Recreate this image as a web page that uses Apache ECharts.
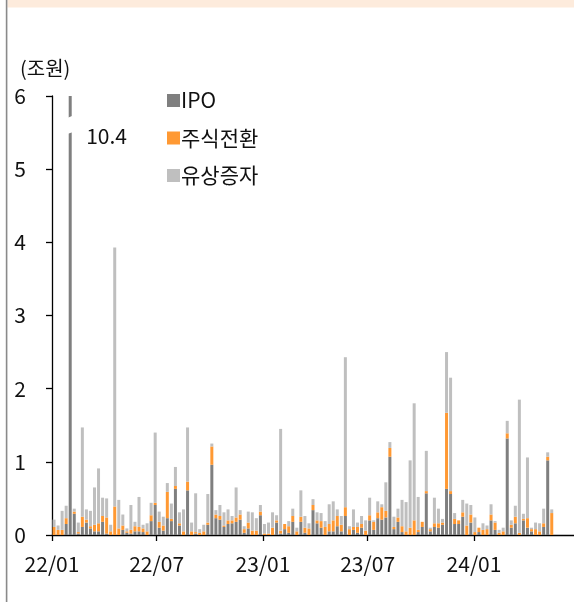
<!DOCTYPE html>
<html><head><meta charset="utf-8">
<script src="https://cdn.jsdelivr.net/npm/echarts@6/dist/echarts.min.js"></script>
<style>html,body{margin:0;padding:0;background:#fff}#c{width:574px;height:602px}</style>
</head><body><div id="c"></div>
<script>
// Weekly series, weeks starting 2022-01-01 (one category per week)
const firstWeek = '2022-01-01';
const weekCount = 129; // axis runs a few weeks past the last bar
const seriesNames = ['IPO', '주식전환', '유상증자'];
const ipo = [0,0,0,0.15,10.4,0.29,0.02,0.11,0.17,0.09,
  0.05,0.05,0.18,0.02,0,0,0,0.07,0.03,0.02,
  0.05,0.05,0.04,0,0.19,0.41,0.10,0.06,0.23,0.19,
  0.63,0.13,0,0.61,0,0.02,0,0,0.14,0.96,
  0.23,0.21,0.11,0.15,0.16,0.18,0.21,0.03,0.09,0,
  0,0.27,0,0,0,0.17,0.02,0.08,0.03,0.18,
  0,0.18,0.03,0,0.34,0.16,0.10,0,0.05,0.05,
  0.12,0.05,0.26,0,0.07,0.03,0.10,0,0.20,0.07,
  0.23,0.21,0.24,1.07,0.08,0.18,0.04,0,0,0,
  0.04,0.11,0.57,0.05,0.11,0.10,0.14,0.63,0.56,0.15,
  0.15,0.25,0,0.17,0,0.04,0,0,0.20,0.07,
  0,0,1.32,0.10,0.16,0,0.20,0.10,0.05,0,
  0,0.11,1.02,0];
const conversion = [0.11,0.07,0.07,0.08,0,0.03,0.02,0.14,0.04,0.03,
  0.09,0.11,0.08,0.22,0.05,0.39,0.09,0.06,0.02,0.05,
  0.07,0.06,0.05,0.05,0.08,0.03,0.08,0.07,0.36,0.03,
  0.04,0.03,0.05,0.12,0.05,0.02,0.03,0.05,0.03,0.25,
  0.05,0.05,0.02,0.05,0.04,0.06,0.07,0.05,0.08,0.06,
  0.06,0.05,0.02,0.02,0.10,0.03,0.04,0.07,0.09,0.08,
  0.05,0.07,0.07,0.09,0.07,0.04,0.09,0.11,0.10,0.15,
  0.14,0.09,0.12,0.08,0.04,0.08,0.05,0.06,0.07,0.11,
  0.08,0.17,0.09,0.12,0.03,0.06,0.08,0.05,0.10,0.20,
  0.03,0.07,0.03,0.03,0.05,0.06,0.03,1.04,0.04,0.07,
  0.05,0.06,0.13,0.11,0.04,0.06,0.07,0.08,0.08,0.10,
  0.03,0.05,0.07,0.04,0.09,0.03,0.02,0.13,0.03,0.08,
  0.05,0.05,0.05,0.30];
const rights = [0.10,0.06,0.26,0.17,0,0.04,0.13,1.22,0.14,0.21,
  0.51,0.75,0.25,0.26,0.09,3.54,0.39,0.15,0.04,0.34,
  0.06,0.41,0.05,0.11,0.17,0.96,0.14,0.12,0.12,0.21,
  0.26,0.15,0.30,0.74,0.12,0.53,0.05,0.09,0.39,0.04,
  0.06,0.15,0.18,0.15,0.06,0.41,0.06,0.04,0.15,0.25,
  0.17,0.09,0.13,0.15,0.21,0.07,1.39,0,0.07,0.10,
  0.05,0.36,0.16,0.07,0.08,0.11,0.11,0.08,0.27,0.26,
  0.09,0.12,2.05,0.04,0.24,0.06,0.11,0.14,0.24,0.02,
  0.15,0.04,0.39,0.08,0.14,0.12,0.36,0.40,0.92,1.60,
  0.45,0,0.55,0.02,0.35,0.20,0.05,0.83,1.55,0.08,
  0,0.17,0.30,0.13,0.20,0,0.09,0.05,0.14,0.02,
  0.04,0.05,0.17,0.06,0.15,1.82,0.07,0.83,0.02,0.09,
  0.11,0.20,0.06,0.05];
const tickDates = ['2022-01-01', '2022-07-01', '2023-01-01', '2023-07-01', '2024-01-01'];
const tickLabels = ['22/01', '22/07', '23/01', '23/07', '24/01'];
const yUnit = '(조원)';
const yMax = 6;

const DAY = 86400000;
const origin = Date.parse(firstWeek);
const dayOf = s => Math.round((Date.parse(s) - origin) / DAY);
const weekCats = Array.from({length: weekCount}, (_, i) =>
  new Date(origin + 7 * i * DAY).toISOString().slice(0, 10));
const tickDays = tickDates.map(dayOf);
const axisDays = weekCount * 7;

const FONT = '"Noto Sans CJK KR", "Noto Sans", sans-serif';
const colors = ['#7f7f7f', '#ff9933', '#bfbfbf'];
const chart = echarts.init(document.getElementById('c'), null, {renderer: 'canvas'});

const mk = (name, arr, color) => ({
  name, type: 'bar', stack: 'total', barWidth: 3, clip: true, xAxisIndex: 0,
  itemStyle: {color}, emphasis: {disabled: true},
  data: arr
});

chart.setOption({
  animation: false,
  textStyle: {fontFamily: FONT},
  grid: {left: 52, right: 0, top: 96, bottom: 67, containLabel: false},
  legend: {
    orient: 'vertical', left: 162, top: 85, itemWidth: 13, itemHeight: 13, itemGap: 16.5,
    icon: 'rect', data: seriesNames,
    textStyle: {fontSize: 21, lineHeight: 20, color: '#111', fontFamily: FONT, padding: [0, 0, 0, -4]}
  },
  xAxis: [{
    type: 'category', data: weekCats, boundaryGap: true,
    axisLine: {show: true, lineStyle: {color: '#000', width: 1.3}},
    axisTick: {show: false}, axisLabel: {show: false}, splitLine: {show: false}
  }, {
    type: 'value', min: 0, max: axisDays, position: 'bottom',
    axisLine: {show: false},
    axisTick: {show: true, length: 6, customValues: tickDays, lineStyle: {color: '#000', width: 1.3}},
    axisLabel: {
      customValues: tickDays, fontSize: 21, lineHeight: 21, color: '#111', margin: 19,
      formatter: v => tickLabels[tickDays.indexOf(v)] || ''
    },
    splitLine: {show: false}
  }],
  yAxis: {
    type: 'value', min: 0, max: yMax, interval: 1,
    axisLine: {show: true, lineStyle: {color: '#000', width: 1.3}},
    axisTick: {show: true, length: 6, lineStyle: {color: '#000', width: 1.3}},
    axisLabel: {fontSize: 21, color: '#111', margin: 26},
    splitLine: {show: false}
  },
  series: [
    mk(seriesNames[0], ipo, colors[0]),
    mk(seriesNames[1], conversion, colors[1]),
    mk(seriesNames[2], rights, colors[2])
  ]
});

// broken-bar marker and value label for the bar exceeding the axis maximum
const gfx = [
  {type: 'rect', shape: {x: 7.5, y: 0, width: 574, height: 7.5}, style: {fill: '#fdebdc'}, silent: true},
  {type: 'rect', shape: {x: 5.8, y: 0, width: 1.6, height: 602}, style: {fill: '#8a8a8a'}, silent: true},
  {type: 'text', left: 20, top: 58, style: {text: yUnit, font: '20px ' + FONT, fill: '#111'}, silent: true}
];
ipo.forEach((v, i) => {
  if (v > yMax) {
    const p = chart.convertToPixel({xAxisIndex: 0, yAxisIndex: 0}, [i, yMax * 0.935]);
    const x = p[0], y = p[1];
    gfx.push({type: 'polygon', shape: {points: [[x - 3, y - 6.5], [x + 3, y - 9], [x + 3, y + 7.5], [x - 3, y + 9.5]]},
      style: {fill: '#fff'}, z: 100, silent: true});
    const q = chart.convertToPixel({xAxisIndex: 0, yAxisIndex: 0}, [i, yMax * 0.908]);
    gfx.push({type: 'text', x: q[0] + 16, y: q[1], z: 100, silent: true,
      style: {text: String(v), font: '21px ' + FONT, fill: '#111', verticalAlign: 'middle', align: 'left'}});
  }
});
chart.setOption({graphic: gfx});
</script></body></html>
